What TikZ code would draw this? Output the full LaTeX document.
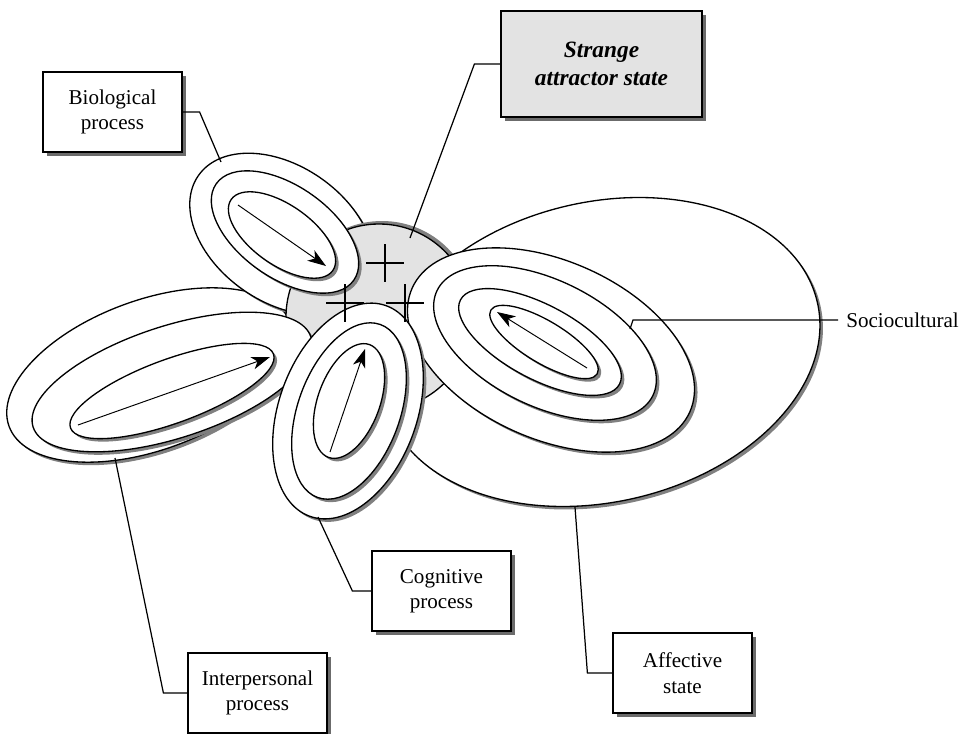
\documentclass[tikz,border=0pt]{standalone}
\usepackage{fontspec}
\setmainfont{Liberation Serif}
\usetikzlibrary{arrows.meta,shadows}
\definecolor{shadowcol}{gray}{0.5}
\definecolor{boxshadow}{gray}{0.42}
\definecolor{attrgray}{gray}{0.89}
\newcommand\ringell[5]{%
  \fill[shadowcol, shift={({#1+3},{#2+3})}, rotate=#5] (0,0) ellipse [x radius=#3, y radius=#4];
  \draw[ring, shift={(#1,#2)}, rotate=#5] (0,0) ellipse [x radius=#3, y radius=#4];}
\begin{document}
\begin{tikzpicture}[x=0.02cm,y=-0.02cm,
  ring/.style={draw=black, fill=white, line width=0.75pt},
  flowarrow/.style={line width=0.55pt, -{Stealth[length=10.5pt,width=7.2pt,inset=3pt]}},
  crossline/.style={line width=1.1pt},
  conn/.style={line width=0.7pt},
  labelbox/.style={draw=black, fill=white, line width=0.7pt, minimum width=2.78cm, minimum height=1.6cm,
    align=center, font=\fontsize{12}{14.5}\selectfont, inner sep=0pt,
    drop shadow={shadow xshift=0.08cm, shadow yshift=-0.08cm, fill=boxshadow, opacity=1}},
  attrbox/.style={labelbox, fill=attrgray, minimum width=4.02cm, minimum height=2.12cm,
    font=\fontsize{13.3}{16}\selectfont\bfseries\itshape}
]
\useasboundingbox (0,0) rectangle (965,734);

% bottom layers
\ringell{601}{352}{222}{150}{13}   % affective outermost
\ringell{150}{375}{150}{75}{20}    % interpersonal outer
\ringell{282}{234}{102}{68}{-35}   % biological outer

% strange attractor disc
\fill[shadowcol] (382,314) circle [radius=93];
\draw[fill=attrgray, line width=0.75pt] (379,317) circle [radius=93];

% interpersonal rings
\ringell{172}{382}{146}{56}{18}
\ringell{172}{391}{108}{32}{20}
\coordinate (ipS) at (78,425);
\coordinate (ipT) at (270,357);
\draw[flowarrow] (ipS) -- (ipT);

% biological rings
\ringell{285}{232}{84}{46}{-35}
\ringell{282}{235}{62}{30}{-35}
\coordinate (bpS) at (238,205);
\coordinate (bpT) at (326,266);
\draw[flowarrow] (bpS) -- (bpT);

% affective rings
\ringell{551}{350}{152}{89}{-24}
\ringell{545}{343}{120}{63}{-26}
\ringell{540}{342}{90}{37}{-28}
\ringell{544}{342}{62}{21}{-31}
\coordinate (afS) at (587,368);
\coordinate (afT) at (497,312);
\draw[flowarrow] (afS) -- (afT);

% cognitive rings
\ringell{348}{411}{112}{69}{70}
\ringell{349}{411}{92}{51}{70}
\ringell{349}{401}{60}{31}{70}
\coordinate (cgS) at (330,452);
\coordinate (cgT) at (365,349);
\draw[flowarrow] (cgS) -- (cgT);

% crosses
\foreach \cx/\cy in {385/263, 345/303, 405/303}{
  \draw[crossline] (\cx-19,\cy) -- (\cx+19,\cy);
  \draw[crossline] (\cx,\cy-19) -- (\cx,\cy+19);
}

% label boxes
\node[labelbox] (bio) at (112.5,112) {Biological\\process};
\node[attrbox] (attr) at (601.5,64) {Strange\\attractor state};
\node[labelbox] (cog) at (441.5,591) {Cognitive\\process};
\node[labelbox] (inter) at (257.5,693) {Interpersonal\\process};
\node[labelbox] (aff) at (682.5,673) {Affective\\state};
\node[anchor=west, inner xsep=0.16cm, inner ysep=0pt, font=\fontsize{12}{14.5}\selectfont] (soc) at (838,320) {Sociocultural};

% connector end points
\coordinate (bioE) at (221,162);
\coordinate (attrE) at (410,238);
\coordinate (cogE) at (318,517);
\coordinate (interE) at (115,458);
\coordinate (affE) at (575,507);
\coordinate (socE) at (630,329);

\draw[conn] (bio.east) -- ++(17,0) -- (bioE);
\draw[conn] (attr.west) -- ++(-26,0) -- (attrE);
\draw[conn] (cog.west) -- ++(-19,0) -- (cogE);
\draw[conn] (inter.west) -- ++(-24,0) -- (interE);
\draw[conn] (aff.west) -- ++(-25,0) -- (affE);
\draw[conn] (soc.west) -- (633,320) -- (socE);
\end{tikzpicture}
\end{document}
